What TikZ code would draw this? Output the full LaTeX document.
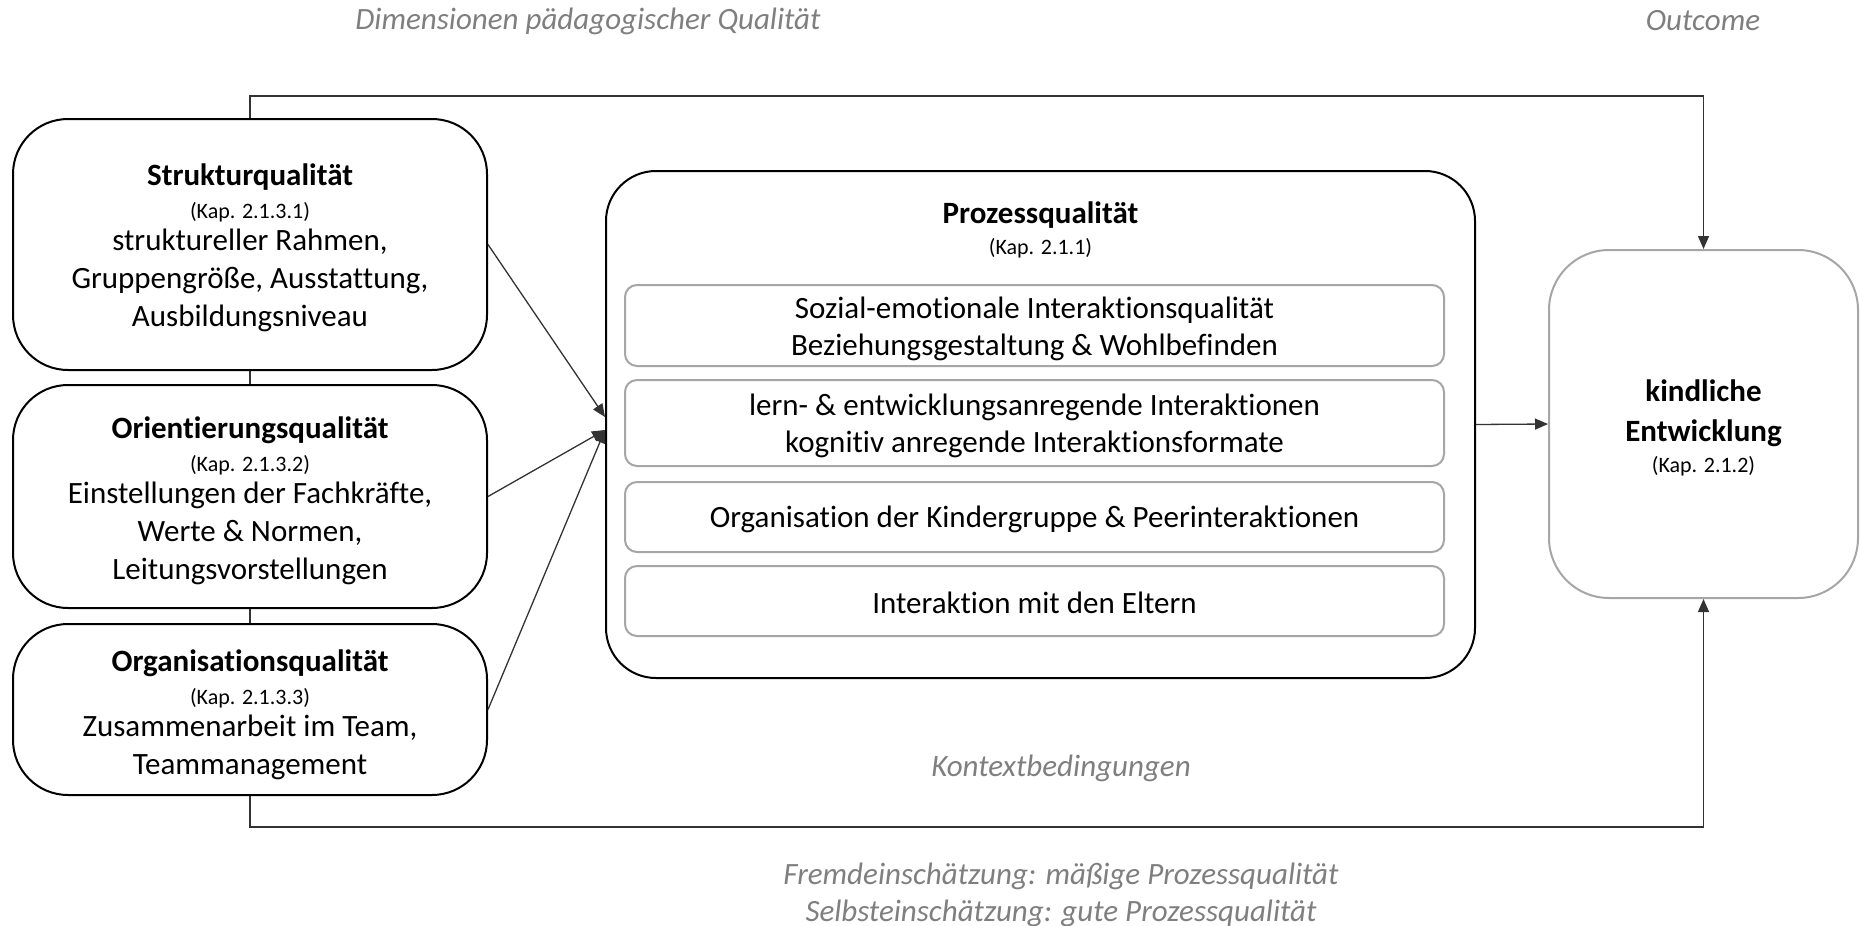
\documentclass[tikz,border=0pt]{standalone}
\usepackage{fontspec}
\setmainfont{Carlito}[Ligatures=NoCommon]
\usetikzlibrary{arrows.meta}
\definecolor{notegray}{HTML}{7F7F7F}
\definecolor{framegray}{HTML}{A6A6A6}
\definecolor{linkgray}{HTML}{333333}
\newcommand{\mainsize}{\fontsize{31}{38}\selectfont}
\newcommand{\kapsize}{\fontsize{22}{26}\selectfont}
\begin{document}
\begin{tikzpicture}[x=1pt,y=-1pt,
  qbox/.style={draw=black, line width=2pt, rounded corners=55pt, fill=white, inner sep=0pt},
  subbox/.style={draw=framegray, line width=2pt, rounded corners=12pt, fill=white,
    minimum width=819pt, inner sep=0pt},
  outbox/.style={draw=framegray, line width=2pt, rounded corners=60pt, fill=white, inner sep=0pt},
  txt/.style={align=center, inner sep=0pt, font=\mainsize},
  note/.style={text=notegray, font=\mainsize\itshape, inner sep=0pt},
  link/.style={draw=linkgray, line width=1.3pt},
  arrow/.style={link, -{Triangle[length=13pt,width=11pt]}}]
\useasboundingbox (0,0) rectangle (1861,926);

% headings and notes
\node[note] (dimhead) at (588,21) {Dimensionen pädagogischer Qualität};
\node[note] (outhead) at (1703,21) {Outcome};
\node[note] (kontext) at (1061,768) {Kontextbedingungen};
\node[note, align=center] (rating) at (1061,895)
  {Fremdeinschätzung: mäßige Prozessqualität\\[-1pt]Selbsteinschätzung: gute Prozessqualität};

% dimensions of quality (left column)
\node[qbox, minimum width=474pt, minimum height=251pt] (struk) at (250,244.5) {};
\node[txt] (struktxt) at (250,247.5)
  {\textbf{Strukturqualität}\\[-5pt]{\kapsize(Kap. 2.1.3.1)}\\[-6pt]struktureller Rahmen,\\Gruppengröße, Ausstattung,\\Ausbildungsniveau};
\node[qbox, minimum width=474pt, minimum height=223pt] (orient) at (250,496.5) {};
\node[txt] (orienttxt) at (250,500.5)
  {\textbf{Orientierungsqualität}\\[-5pt]{\kapsize(Kap. 2.1.3.2)}\\[-6pt]Einstellungen der Fachkräfte,\\Werte \& Normen,\\Leitungsvorstellungen};
\node[qbox, minimum width=474pt, minimum height=171pt] (organ) at (250,709.5) {};
\node[txt] (organtxt) at (250,714.5)
  {\textbf{Organisationsqualität}\\[-5pt]{\kapsize(Kap. 2.1.3.3)}\\[-6pt]Zusammenarbeit im Team,\\Teammanagement};

% process quality with its four facets
\node[qbox, rounded corners=50pt, minimum width=869pt, minimum height=507pt] (proz) at (1040.5,424.5) {};
\node[font=\mainsize, anchor=base, inner sep=0pt] (proztitle) at (1040.5,223) {\textbf{Prozessqualität}};
\node[font=\kapsize, anchor=base, inner sep=0pt] (prozkap) at (1040.5,254) {(Kap. 2.1.1)};
\node[subbox, minimum height=81pt] (facet1) at (1034.5,325.5) {};
\node[txt] (facet1txt) at (1034.5,328.5)
  {Sozial-emotionale Interaktionsqualität\\[-1pt]Beziehungsgestaltung \& Wohlbefinden};
\node[subbox, minimum height=86pt] (facet2) at (1034.5,423) {};
\node[txt] (facet2txt) at (1034.5,426)
  {lern- \& entwicklungsanregende Interaktionen\\[-1pt]kognitiv anregende Interaktionsformate};
\node[subbox, minimum height=70pt] (facet3) at (1034.5,517) {};
\node[txt] (facet3txt) at (1034.5,519.5)
  {Organisation der Kindergruppe \& Peerinteraktionen};
\node[subbox, minimum height=70pt] (facet4) at (1034.5,601) {};
\node[txt] (facet4txt) at (1034.5,602.5)
  {Interaktion mit den Eltern};

% outcome
\node[outbox, minimum width=309pt, minimum height=348pt] (kind) at (1703.5,424) {};
\node[txt] (kindtxt) at (1703.5,428)
  {\textbf{kindliche}\\[2pt]\textbf{Entwicklung}\\[-7pt]{\kapsize(Kap. 2.1.2)}};

% connectors
\coordinate (topleft) at (250,96);
\coordinate (botleft) at (250,827);
\draw[link] (struk.south) -- (orient.north);
\draw[link] (orient.south) -- (organ.north);
\draw[arrow] (struk.north) -- (topleft) -| (kind.north);
\draw[arrow] (organ.south) -- (botleft) -| (kind.south);
\draw[arrow] (struk.east) -- ([yshift=7.5pt]proz.west);
\draw[arrow] (orient.east) -- ([yshift=-5.5pt]proz.west);
\draw[arrow] (organ.east) -- ([yshift=-5.5pt]proz.west);
\draw[arrow] (proz.east) -- (kind.west);
\end{tikzpicture}
\end{document}
